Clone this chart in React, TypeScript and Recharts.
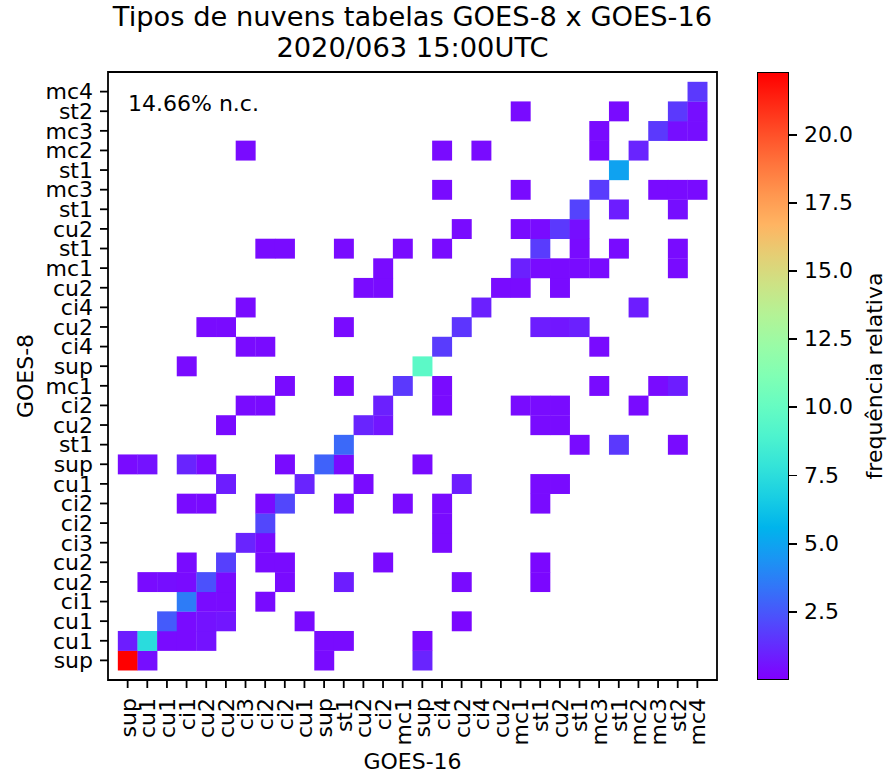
import React from 'react';
import { ScatterChart, Scatter, XAxis, YAxis, ReferenceArea } from 'recharts';

// class labels, same order on both axes (GOES-16 on x, GOES-8 on y)
const categories = [
  'sup', 'cu1', 'cu1', 'ci1', 'cu2', 'cu2', 'ci3', 'ci2', 'ci2', 'cu1',
  'sup', 'st1', 'cu2', 'ci2', 'mc1', 'sup', 'ci4', 'cu2', 'ci4', 'cu2',
  'mc1', 'st1', 'cu2', 'st1', 'mc3', 'st1', 'mc2', 'mc3', 'st2', 'mc4',
];

// [GOES-16 index, GOES-8 index, relative frequency %]
const freqCells: [number, number, number][] = [
  [0, 0, 22.3], [1, 0, 0.4], [10, 0, 0.3], [15, 0, 1.0],
  [0, 1, 0.8], [1, 1, 7.4], [2, 1, 0.3], [3, 1, 0.3], [4, 1, 0.5], [10, 1, 0.3], [11, 1, 0.3], [15, 1, 0.3],
  [2, 2, 2.6], [3, 2, 0.3], [4, 2, 0.5], [5, 2, 0.6], [9, 2, 0.3], [17, 2, 0.2],
  [3, 3, 3.6], [4, 3, 0.3], [5, 3, 0.3], [7, 3, 0.3],
  [1, 4, 0.3], [2, 4, 0.4], [3, 4, 0.3], [4, 4, 2.3], [5, 4, 0.3], [8, 4, 0.3], [11, 4, 0.8], [17, 4, 0.3], [21, 4, 0.2],
  [3, 5, 0.3], [5, 5, 1.8], [7, 5, 0.3], [8, 5, 0.3], [13, 5, 0.3], [21, 5, 0.2],
  [6, 6, 1.0], [7, 6, 0.3], [16, 6, 0.3],
  [7, 7, 2.0], [16, 7, 0.3],
  [3, 8, 0.3], [4, 8, 0.3], [7, 8, 0.3], [8, 8, 2.0], [11, 8, 0.3], [14, 8, 0.3], [16, 8, 0.3], [21, 8, 0.3],
  [5, 9, 0.8], [9, 9, 1.0], [12, 9, 0.3], [17, 9, 0.8], [21, 9, 0.3], [22, 9, 0.3],
  [0, 10, 0.3], [1, 10, 0.5], [3, 10, 1.0], [4, 10, 0.3], [8, 10, 0.3], [10, 10, 2.8], [11, 10, 0.3], [15, 10, 0.3],
  [11, 11, 3.0], [23, 11, 0.3], [25, 11, 1.6], [28, 11, 0.3],
  [5, 12, 0.3], [12, 12, 1.0], [13, 12, 0.6], [21, 12, 0.3], [22, 12, 0.3],
  [6, 13, 0.3], [7, 13, 0.3], [13, 13, 0.9], [16, 13, 0.3], [20, 13, 0.3], [21, 13, 0.3], [22, 13, 0.3], [26, 13, 0.3],
  [8, 14, 0.3], [11, 14, 0.3], [14, 14, 1.6], [16, 14, 0.3], [24, 14, 0.3], [27, 14, 0.3], [28, 14, 0.8],
  [3, 15, 0.3], [15, 15, 9.6],
  [6, 16, 0.3], [7, 16, 0.3], [16, 16, 1.7], [24, 16, 0.3],
  [4, 17, 0.3], [5, 17, 0.3], [11, 17, 0.3], [17, 17, 1.5], [21, 17, 0.8], [22, 17, 0.6], [23, 17, 0.9],
  [6, 18, 0.3], [18, 18, 0.9], [26, 18, 0.8],
  [12, 19, 0.3], [13, 19, 0.3], [19, 19, 0.3], [20, 19, 0.3], [22, 19, 0.3],
  [13, 20, 0.3], [20, 20, 0.9], [21, 20, 0.3], [22, 20, 0.3], [23, 20, 0.3], [24, 20, 0.3], [28, 20, 0.3],
  [7, 21, 0.3], [8, 21, 0.3], [11, 21, 0.3], [14, 21, 0.3], [16, 21, 0.3], [21, 21, 1.7], [23, 21, 0.3], [25, 21, 0.3], [28, 21, 0.3],
  [17, 22, 0.3], [20, 22, 0.3], [21, 22, 0.3], [22, 22, 1.6], [23, 22, 0.4],
  [23, 23, 1.9], [25, 23, 0.8], [28, 23, 0.4],
  [16, 24, 0.3], [20, 24, 0.3], [24, 24, 1.7], [27, 24, 0.3], [28, 24, 0.3], [29, 24, 0.3],
  [25, 25, 4.9],
  [6, 26, 0.3], [16, 26, 0.3], [18, 26, 0.3], [24, 26, 0.3], [26, 26, 1.0],
  [24, 27, 0.3], [27, 27, 1.6], [28, 27, 0.4], [29, 27, 0.4],
  [20, 28, 0.3], [25, 28, 0.3], [28, 28, 1.6], [29, 28, 0.4],
  [29, 29, 1.6],
];

const colorbarTicks = [2.5, 5, 7.5, 10, 12.5, 15, 17.5, 20];
const notClassified = '14.66% n.c.';
const VMIN = 0;
const VMAX = 22.3;

const FONT = '"DejaVu Sans", sans-serif';
const PLOT = { left: 108, top: 72, width: 609, height: 608 };
const CELL_W = PLOT.width / 31;
const CELL_H = PLOT.height / 31;

// matplotlib "rainbow"
function rainbow(t: number) {
  const c = Math.max(0, Math.min(1, t));
  const r = Math.min(1, Math.abs(2 * c - 0.5));
  const g = Math.sin(Math.PI * c);
  const b = Math.cos((Math.PI / 2) * c);
  return `rgb(${Math.round(r * 255)},${Math.round(g * 255)},${Math.round(b * 255)})`;
}

const tableData = freqCells.map(([x, y, v]) => ({ x, y, v }));
const tickIdx = categories.map((_, i) => i);

const CellShape = (props: any) => {
  const { cx, cy, payload } = props;
  return (
    <rect
      x={cx - CELL_W / 2}
      y={cy - CELL_H / 2}
      width={CELL_W + 0.3}
      height={CELL_H + 0.3}
      fill={rainbow((payload.v - VMIN) / (VMAX - VMIN))}
    />
  );
};

const XTick = ({ x, y, payload }: any) => (
  <g transform={`translate(${x},${y})`}>
    <text transform="rotate(-90)" x={-3} y={0} dy="0.36em" textAnchor="end" fontSize={22} fill="#000" fontFamily={FONT}>
      {categories[payload.value]}
    </text>
  </g>
);

const gradient = `linear-gradient(to top, ${Array.from({ length: 21 }, (_, i) => `${rainbow(i / 20)} ${i * 5}%`).join(', ')})`;

export default function App() {
  const cbTop = PLOT.top;
  const cbH = PLOT.height;
  return (
    <div style={{ position: 'absolute', left: 0, top: 0, width: 889, height: 778, background: '#fff', fontFamily: FONT, color: '#000' }}>
      <div style={{ position: 'absolute', left: PLOT.left - 20, top: 1, width: PLOT.width + 40, textAlign: 'center', fontSize: 27.3, lineHeight: '31px', whiteSpace: 'nowrap' }}>
        <div>Tipos de nuvens tabelas GOES-8 x GOES-16</div>
        <div>2020/063 15:00UTC</div>
      </div>

      <ScatterChart width={889} height={778} margin={{ top: PLOT.top, right: 889 - PLOT.left - PLOT.width, bottom: 0, left: 0 }}>
        <XAxis
          type="number"
          dataKey="x"
          domain={[-1, 30]}
          ticks={tickIdx}
          interval={0}
          height={778 - PLOT.top - PLOT.height}
          tick={<XTick />}
          tickSize={8}
          tickMargin={7}
          axisLine={false}
          tickLine={{ stroke: '#000', strokeWidth: 1.8 }}
          allowDataOverflow
        />
        <YAxis
          type="number"
          dataKey="y"
          domain={[-1, 30]}
          ticks={tickIdx}
          interval={0}
          width={PLOT.left}
          tickFormatter={(v: number) => categories[v]}
          tick={{ fontSize: 22, fill: '#000', fontFamily: FONT }}
          tickSize={8}
          tickMargin={7}
          axisLine={false}
          tickLine={{ stroke: '#000', strokeWidth: 1.8 }}
          allowDataOverflow
        />
        <Scatter data={tableData} shape={<CellShape />} isAnimationActive={false} />
        <ReferenceArea x1={-1} x2={30} y1={-1} y2={30} fill="none" fillOpacity={0} stroke="#000" strokeWidth={1.8} />
      </ScatterChart>

      <div style={{ position: 'absolute', left: 128, top: 91, fontSize: 22, lineHeight: '26px', whiteSpace: 'nowrap' }}>{notClassified}</div>

      <div style={{ position: 'absolute', left: PLOT.left, width: PLOT.width, top: 749, textAlign: 'center', fontSize: 22, lineHeight: '26px' }}>GOES-16</div>
      <div style={{ position: 'absolute', left: 25, top: PLOT.top + PLOT.height / 2, transform: 'translate(-50%, -50%) rotate(-90deg)', fontSize: 22, whiteSpace: 'nowrap' }}>GOES-8</div>

      {/* colorbar */}
      <div style={{ position: 'absolute', left: 757, top: cbTop, width: 32, height: cbH, background: gradient, boxSizing: 'border-box', border: '1.8px solid #000' }} />
      {colorbarTicks.map((t) => {
        const y = cbTop + (1 - (t - VMIN) / (VMAX - VMIN)) * cbH;
        return (
          <React.Fragment key={t}>
            <div style={{ position: 'absolute', left: 789, top: y - 0.9, width: 8, height: 1.8, background: '#000' }} />
            <div style={{ position: 'absolute', left: 804, top: y - 13, fontSize: 22, lineHeight: '26px', whiteSpace: 'nowrap' }}>{t.toFixed(1)}</div>
          </React.Fragment>
        );
      })}
      <div style={{ position: 'absolute', left: 874, top: PLOT.top + PLOT.height / 2, transform: 'translate(-50%, -50%) rotate(-90deg)', fontSize: 22, whiteSpace: 'nowrap' }}>frequência relativa</div>
    </div>
  );
}
